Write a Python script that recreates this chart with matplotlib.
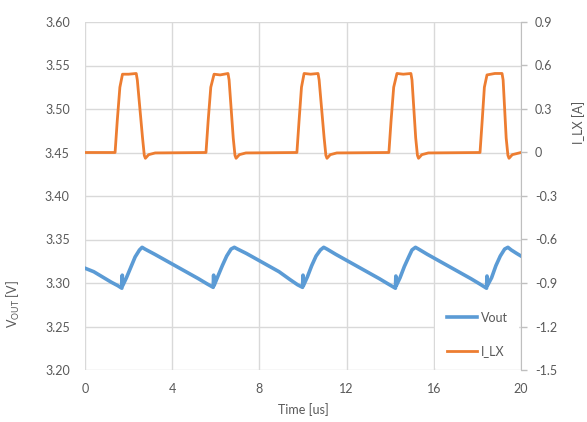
import matplotlib
matplotlib.use("Agg")
import matplotlib.pyplot as plt

plt.rcParams['font.family'] = ['Lato', 'DejaVu Sans']
plt.rcParams['mathtext.default'] = 'regular'

# ---- data ----
vout_t = [0.0, 0.4, 0.8, 1.2, 1.5, 1.69, 1.71, 1.73, 1.9, 2.1, 2.3, 2.5, 2.62, 2.75,
          3.2, 3.7, 4.2, 4.7, 5.2, 5.6, 5.88, 5.90, 5.92, 6.1, 6.3, 6.5, 6.7, 6.85, 7.0,
          7.4, 7.9, 8.4, 8.9, 9.4, 9.75, 9.98, 10.00, 10.02, 10.2, 10.4, 10.6, 10.8, 10.95, 11.1,
          11.5, 12.0, 12.5, 13.0, 13.5, 13.9, 14.24, 14.26, 14.28, 14.45, 14.65, 14.85, 15.0, 15.16, 15.3,
          15.7, 16.2, 16.7, 17.2, 17.7, 18.1, 18.42, 18.44, 18.46, 18.65, 18.85, 19.05, 19.25, 19.4, 19.55,
          19.8, 20.0]
vout_v = [3.317, 3.313, 3.307, 3.301, 3.297, 3.294, 3.309, 3.297, 3.306, 3.318, 3.330, 3.338, 3.341, 3.339,
          3.333, 3.326, 3.319, 3.312, 3.305, 3.299, 3.295, 3.309, 3.297, 3.308, 3.320, 3.331, 3.339, 3.341, 3.339,
          3.334, 3.327, 3.320, 3.313, 3.304, 3.298, 3.295, 3.309, 3.297, 3.307, 3.320, 3.331, 3.338, 3.341, 3.339,
          3.333, 3.326, 3.319, 3.312, 3.305, 3.299, 3.294, 3.308, 3.297, 3.306, 3.319, 3.330, 3.338, 3.341, 3.339,
          3.333, 3.326, 3.319, 3.312, 3.305, 3.299, 3.294, 3.308, 3.297, 3.306, 3.320, 3.331, 3.339, 3.341, 3.338,
          3.334, 3.331]

ilx_t = [0.0, 1.38, 1.48, 1.60, 1.72, 2.00, 2.35, 2.40, 2.64, 2.72, 2.77, 2.92, 3.22,
         5.55, 5.65, 5.77, 5.92, 6.20, 6.56, 6.61, 6.80, 6.88, 6.93, 7.08, 7.38,
         9.72, 9.82, 9.93, 10.05, 10.35, 10.69, 10.74, 10.97, 11.05, 11.10, 11.25, 11.55,
         13.94, 14.04, 14.16, 14.31, 14.60, 14.95, 15.00, 15.17, 15.25, 15.30, 15.45, 15.75,
         18.12, 18.22, 18.32, 18.44, 18.80, 19.13, 19.18, 19.32, 19.40, 19.45, 19.60, 20.0]
ilx_v = [0.0, 0.0, 0.22, 0.45, 0.54, 0.54, 0.545, 0.50, 0.10, -0.02, -0.04, -0.015, -0.003,
         0.0, 0.22, 0.45, 0.54, 0.535, 0.545, 0.50, 0.10, -0.02, -0.04, -0.015, -0.003,
         0.0, 0.22, 0.45, 0.545, 0.54, 0.545, 0.50, 0.10, -0.02, -0.04, -0.015, -0.003,
         0.0, 0.22, 0.45, 0.545, 0.54, 0.545, 0.50, 0.10, -0.02, -0.04, -0.015, -0.003,
         0.0, 0.22, 0.45, 0.535, 0.545, 0.545, 0.50, 0.10, -0.02, -0.04, -0.015, 0.0]

x_ticks = [0, 4, 8, 12, 16, 20]
left_ticks = [3.20, 3.25, 3.30, 3.35, 3.40, 3.45, 3.50, 3.55, 3.60]
right_ticks = [-1.5, -1.2, -0.9, -0.6, -0.3, 0, 0.3, 0.6, 0.9]
right_labels = ['-1.5', '-1.2', '-0.9', '-0.6', '-0.3', '0', '0.3', '0.6', '0.9']

BLUE = '#5B9BD5'
ORANGE = '#ED7D31'
TXT = '#595959'
GRID = '#D9D9D9'

fig = plt.figure(figsize=(5.87, 4.22), dpi=100)
ax = fig.add_axes([85/587, 52/422, 436/587, 348/422])
ax2 = ax.twinx()

l1, = ax.plot(vout_t, vout_v, color=BLUE, lw=2.6, label='Vout', solid_joinstyle='round')
l2, = ax2.plot(ilx_t, ilx_v, color=ORANGE, lw=2.0, label='I_LX', solid_joinstyle='round')

ax.set_xlim(0, 20)
ax.set_ylim(3.20, 3.60)
ax2.set_ylim(-1.5, 0.9)
ax.set_xticks(x_ticks)
ax.set_yticks(left_ticks)
ax.set_yticklabels([f'{v:.2f}' for v in left_ticks])
ax2.set_yticks(right_ticks)
ax2.set_yticklabels(right_labels)

ax.grid(True, color=GRID, lw=1.0)
ax.set_axisbelow(True)
for s in ax.spines.values():
    s.set_visible(False)
for k, s in ax2.spines.items():
    s.set_visible(k == 'right')
ax2.spines['right'].set_color('#BFBFBF')

ax.tick_params(axis='y', length=0, pad=11, labelsize=9, labelcolor=TXT)
ax.tick_params(axis='x', length=0, pad=9.5, labelsize=9, labelcolor=TXT)
ax2.tick_params(axis='y', length=4, width=1, color='#BFBFBF', direction='out', pad=6,
                labelsize=9, labelcolor=TXT)

ax.set_xlabel('Time [us]', fontsize=9, color=TXT, labelpad=6)
ax.set_ylabel(r'V$_{\mathregular{OUT}}$ [V]', fontsize=9, color=TXT)
ax.yaxis.set_label_coords(-0.145, 0.19)
ax2.set_ylabel('I_LX [A]', fontsize=9, color=TXT)
ax2.yaxis.set_label_coords(1.117, 0.71)

leg = ax2.legend(handles=[l1, l2], loc='lower right', bbox_to_anchor=(1.0, 0.0),
                 frameon=True, fancybox=False, framealpha=1, facecolor='white', edgecolor='none',
                 fontsize=9, labelspacing=1.7, handlelength=2.4, handletextpad=0.35,
                 borderpad=0.9, borderaxespad=0.15)
for t in leg.get_texts():
    t.set_color(TXT)

fig.savefig('out.png', dpi=100, facecolor='white')
